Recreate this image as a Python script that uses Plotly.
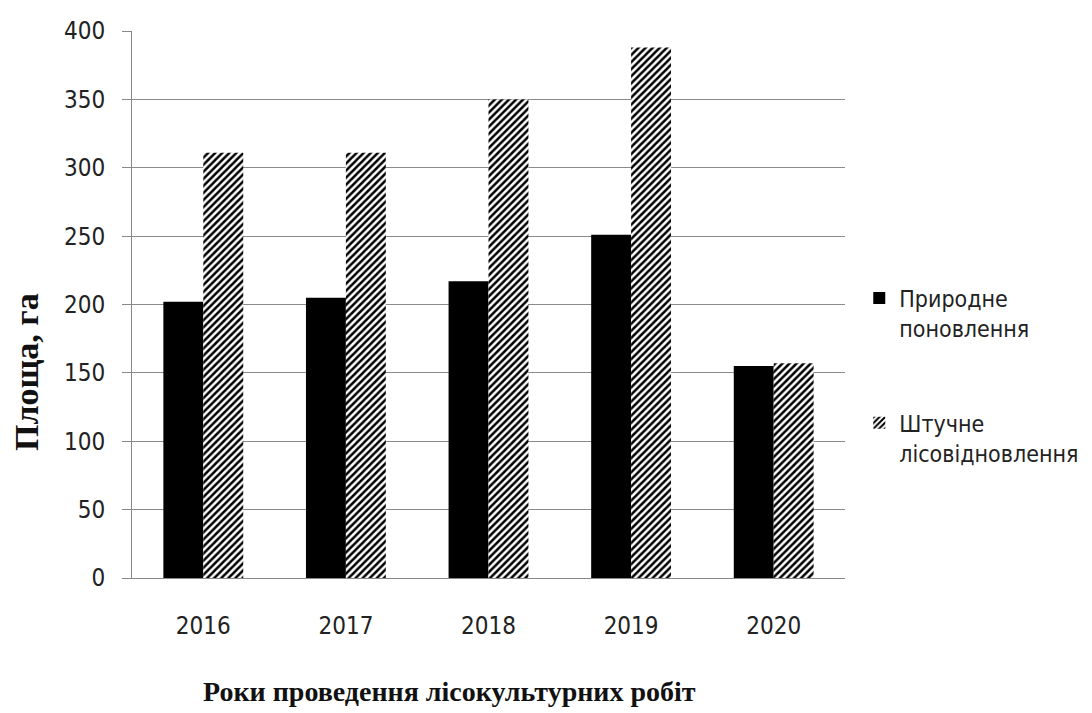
import plotly.graph_objects as go

years = ["2016", "2017", "2018", "2019", "2020"]
natural = [202, 205, 217, 251, 155]
artificial = [311, 311, 350, 388, 157]
series_names = ["Природне<br>поновлення", "Штучне<br>лісовідновлення"]
y_ticks = [0, 50, 100, 150, 200, 250, 300, 350, 400]
x_title = "<b>Роки проведення лісокультурних робіт</b>"
y_title = "<b>Площа, га</b>"

fig = go.Figure()
fig.add_trace(go.Bar(x=years, y=natural, name=series_names[0], legendgroup="a",
                     marker=dict(color="black", line=dict(width=0))))
fig.add_trace(go.Bar(x=years, y=artificial, name=series_names[1], legendgroup="b",
                     marker=dict(color="white", line=dict(width=0),
                                 pattern=dict(shape="/", fgcolor="black", bgcolor="white",
                                              size=5, solidity=0.5, fillmode="replace"))))

narrow = "DejaVu Sans Condensed, Liberation Sans Narrow, sans-serif"
serif_c = "Liberation Serif, Times New Roman, serif"
tick_font = dict(family=narrow, size=24, color="#222")
fig.update_layout(
    width=1092, height=713,
    paper_bgcolor="white", plot_bgcolor="white",
    margin=dict(l=124, r=255, t=23, b=143),
    barmode="group", bargap=0.44, bargroupgap=0,
    showlegend=True,
    legend=dict(x=1.02, y=0.37, xanchor="left", yanchor="middle",
                font=dict(family=narrow, size=23, color="#222"),
                valign="top", tracegroupgap=62, itemwidth=30,
                bgcolor="rgba(0,0,0,0)"),
    xaxis=dict(tickfont=tick_font, showgrid=False, showline=True, linecolor="#888",
               linewidth=1, ticks="", ticklabelstandoff=26, automargin=False),
    yaxis=dict(range=[0, 400], tickvals=y_ticks, tickfont=tick_font,
               showgrid=True, gridcolor="#8a8a8a", gridwidth=1,
               showline=True, linecolor="#888", linewidth=1,
               ticks="outside", ticklen=9, tickcolor="#888",
               ticklabelstandoff=12,
               zeroline=False, automargin=False),
    annotations=[
        dict(text=x_title, xref="paper", yref="paper", x=0.446, y=-0.208,
             xanchor="center", yanchor="middle", showarrow=False,
             font=dict(family=serif_c, size=28, color="#111")),
        dict(text=y_title, xref="paper", yref="paper", x=-0.147, y=0.377,
             xanchor="center", yanchor="middle", showarrow=False, textangle=-90,
             font=dict(family=serif_c, size=34, color="#111")),
    ],
)
fig.write_html("out.html")
